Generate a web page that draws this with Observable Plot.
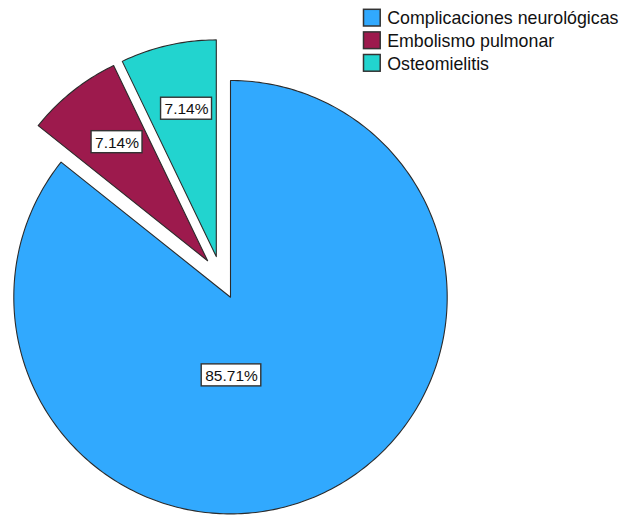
<!DOCTYPE html>
<html>
<head>
<meta charset="utf-8">
<script src="https://cdn.jsdelivr.net/npm/d3@7"></script>
<script src="https://cdn.jsdelivr.net/npm/@observablehq/plot@0.6"></script>
<style>
  html, body { margin: 0; padding: 0; background: #fff; }
  #chart svg { display: block; }
</style>
</head>
<body>
<div id="chart"></div>
<script>
// ---- data ----
const categories = ["Complicaciones neurológicas", "Embolismo pulmonar", "Osteomielitis"];
const counts = [12, 1, 1];
const percentLabels = ["85.71%", "7.14%", "7.14%"];
const exploded = [false, true, true];
const colors = ["#31a9fe", "#9d1a4d", "#22d4cf"];

// ---- layout constants ----
const W = 621, H = 516;
const cx = 230, cy = 296.7, R = 216.7;
const explodeDist = 43;
const FONT = "Liberation Sans, Arial, sans-serif";

const pie = d3.pie().sort(null).startAngle(0).endAngle(2 * Math.PI).value(d => d)(counts);
const exIdx = exploded.map((e, i) => e ? i : -1).filter(i => i >= 0);
const groupMid = (pie[exIdx[0]].startAngle + pie[exIdx[exIdx.length - 1]].endAngle) / 2;

const polys = [];
const labels = [];
pie.forEach((p, i) => {
  const mid = (p.startAngle + p.endAngle) / 2;
  let vx = cx, vy = cy;
  if (exploded[i]) {
    const dir = (mid + groupMid) / 2;
    vx += explodeDist * Math.sin(dir);
    vy -= explodeDist * Math.cos(dir);
  }
  polys.push({cat: categories[i], x: vx, y: vy});
  const n = Math.max(8, Math.ceil((p.endAngle - p.startAngle) * 60));
  for (let k = 0; k <= n; k++) {
    const a = p.startAngle + (p.endAngle - p.startAngle) * k / n;
    polys.push({cat: categories[i], x: vx + R * Math.sin(a), y: vy - R * Math.cos(a)});
  }
  let lx, ly;
  if (exploded[i]) {
    lx = vx + 0.7 * R * Math.sin(mid) + 4;
    ly = vy - 0.7 * R * Math.cos(mid);
  } else {
    lx = vx + 1;
    ly = vy + 0.37 * R - 2;
  }
  labels.push({text: percentLabels[i], x: lx, y: ly});
});

// measure label widths
const LABEL_FS = 15.5;
const ctx = document.createElement("canvas").getContext("2d");
ctx.font = LABEL_FS + "px " + FONT;
labels.forEach(l => { l.w = ctx.measureText(l.text).width + 7; l.h = 22; });

// legend
const legendX = 363.5, legendY0 = 9.3, legendStep = 22.6, sw = 16.7;
const legend = categories.map((c, i) => ({cat: c, x: legendX, y: legendY0 + i * legendStep}));

const colorScale = {domain: categories, range: colors};

const chart = Plot.plot({
  width: W, height: H,
  margin: 0,
  x: {domain: [0, W], range: [0, W], axis: null},
  y: {domain: [0, H], range: [0, H], axis: null},
  color: colorScale,
  style: {background: "#fff", fontFamily: FONT},
  marks: [
    Plot.line(polys, {x: "x", y: "y", z: "cat", fill: "cat", stroke: "#2b2b2b", strokeWidth: 1.1, curve: "linear-closed"}),
    Plot.rect(labels, {x1: d => d.x - d.w / 2, x2: d => d.x + d.w / 2, y1: d => d.y - d.h / 2, y2: d => d.y + d.h / 2, fill: "white", stroke: "#333", strokeWidth: 1.4}),
    Plot.text(labels, {x: "x", y: "y", text: "text", fill: "#111", fontSize: LABEL_FS, textAnchor: "middle", dy: 0.5}),
    Plot.rect(legend, {x1: "x", x2: d => d.x + sw, y1: "y", y2: d => d.y + sw, fill: "cat", stroke: "#333", strokeWidth: 1.5}),
    Plot.text(legend, {x: d => d.x + sw + 6.5, y: d => d.y + sw / 2 + 0.5, text: "cat", textAnchor: "start", fontSize: 17.8, fill: "#111"})
  ]
});
document.getElementById("chart").appendChild(chart);
</script>
</body>
</html>
